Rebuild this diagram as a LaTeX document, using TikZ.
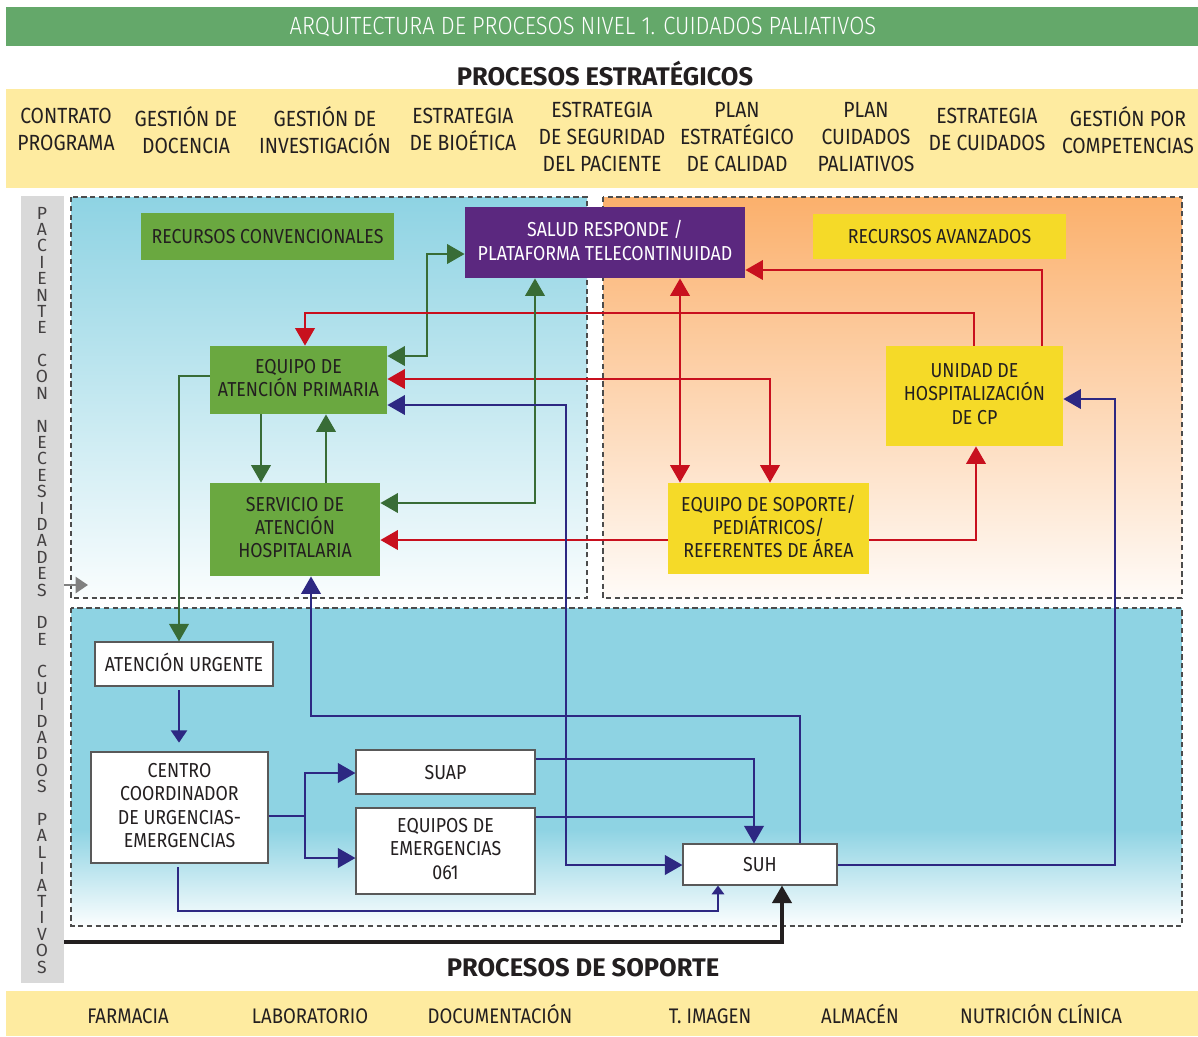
\documentclass[tikz,border=0pt]{standalone}
\usepackage{fontspec}
\setmainfont{Fira Sans}[FakeStretch=0.88]
\newfontfamily\spineFont{Fira Sans}
\newfontfamily\titleFont{Fira Sans Light}[FakeStretch=0.88]
\usetikzlibrary{positioning,arrows.meta}

\definecolor{titleGreen}{RGB}{100,168,106}
\definecolor{bandYellow}{RGB}{254,235,160}
\definecolor{convGreen}{RGB}{106,168,64}
\definecolor{arrowGreen}{RGB}{56,108,54}
\definecolor{telePurple}{RGB}{91,40,127}
\definecolor{advYellow}{RGB}{245,218,40}
\definecolor{arrowRed}{RGB}{200,16,30}
\definecolor{arrowNavy}{RGB}{45,40,130}
\definecolor{skyBlue}{RGB}{142,211,227}
\definecolor{peach}{RGB}{251,176,108}
\definecolor{inkGrey}{RGB}{35,31,32}
\definecolor{spineGrey}{RGB}{217,217,217}

\tikzstyle{pixels} = [x = 0.02cm, y = -0.02cm]
\tikzstyle{evenLines} = [execute at begin node = \vphantom{ÓÉ}, execute at end node = \vphantom{gp}]
\tikzstyle{boxBase} = [inner sep = 0pt, align = center, text = inkGrey, evenLines, font = \fontsize{11.5}{13.2}\selectfont]
\tikzstyle{convStyle} = [boxBase, fill = convGreen]
\tikzstyle{advStyle} = [boxBase, fill = advYellow]
\tikzstyle{teleStyle} = [boxBase, fill = telePurple, text = white]
\tikzstyle{urgentStyle} = [boxBase, fill = white, draw = gray!70!black, line width = .6pt]
\tikzstyle{spineStyle} = [boxBase, fill = spineGrey]
\tikzstyle{zoneBorder} = [draw = gray!60!black, line width = .6pt, dash pattern = on 3pt off 2pt]
\tikzstyle{bandText} = [align = center, text = inkGrey, evenLines, font = \fontsize{12.5}{15.3}\selectfont]
\tikzstyle{supportText} = [text = inkGrey, anchor = base, font = \fontsize{12}{14}\selectfont]
\tikzstyle{headText} = [text = inkGrey, font = \spineFont\fontsize{14.5}{16}\selectfont\bfseries]
\tikzstyle{spineLetter} = [text = inkGrey!85, font = \spineFont\fontsize{10}{10}\selectfont]
\tikzstyle{greenFlow} = [draw = arrowGreen, line width = 1.6pt]
\tikzstyle{redFlow} = [draw = arrowRed, line width = 1.6pt]
\tikzstyle{navyFlow} = [draw = arrowNavy, line width = 1.6pt]
\tikzstyle{blackFlow} = [draw = inkGrey, line width = 1.9pt]
\tikzstyle{greyFlow} = [draw = gray, line width = 1.6pt]

\newcommand{\placeBox}[7]{\node [#1, minimum width = {(#5-#3)*0.02cm}, minimum height = {(#6-#4)*0.02cm}] (#2) at ({(#3+#5)/2}, {(#4+#6)/2}) {#7};}

\begin{document}
\begin{tikzpicture}[pixels, >={Triangle[length = 10pt, width = 11pt]}]
  \useasboundingbox (0,0) rectangle (1198,1036);

  % cabecera
  \fill [titleGreen] (6,7) rectangle (1198,46);
  \node [text = white, font = \titleFont\fontsize{14.2}{16}\selectfont] (title) at (583,27) {ARQUITECTURA DE PROCESOS NIVEL 1. CUIDADOS PALIATIVOS};
  \node [headText] (stratHead) at (605,74) {PROCESOS ESTRATÉGICOS};
  \fill [bandYellow] (6,89) rectangle (1198,188);
  \node [bandText] (s1) at (66,132) {CONTRATO\\PROGRAMA};
  \node [bandText] (s2) at (186,132) {GESTIÓN DE\\DOCENCIA};
  \node [bandText] (s3) at (325,132) {GESTIÓN DE\\INVESTIGACIÓN};
  \node [bandText] (s4) at (463,132) {ESTRATEGIA\\DE BIOÉTICA};
  \node [bandText] (s5) at (602,139) {ESTRATEGIA\\DE SEGURIDAD\\DEL PACIENTE};
  \node [bandText] (s6) at (737,139) {PLAN\\ESTRATÉGICO\\DE CALIDAD};
  \node [bandText] (s7) at (866,139) {PLAN\\CUIDADOS\\PALIATIVOS};
  \node [bandText] (s8) at (987,132) {ESTRATEGIA\\DE CUIDADOS};
  \node [bandText] (s9) at (1128,132) {GESTIÓN POR\\COMPETENCIAS};

  % zonas
  \shade [top color = skyBlue, bottom color = skyBlue!5] (71,197) rectangle (587,598);
  \draw [zoneBorder] (71,197) rectangle (587,598);
  \shade [top color = peach, bottom color = peach!5] (603,197) rectangle (1182,598);
  \draw [zoneBorder] (603,197) rectangle (1182,598);
  \fill [skyBlue] (71,608) rectangle (1182,830);
  \shade [top color = skyBlue, bottom color = skyBlue!3] (71,829) rectangle (1182,926);
  \draw [zoneBorder] (71,608) rectangle (1182,926);

  % paciente
  \placeBox{spineStyle}{spine}{21}{196}{64}{983}{}
  \foreach \letter [count = \k] in {P,A,C,I,E,N,T,E,{},C,O,N,{},N,E,C,E,S,I,D,A,D,E,S,{},D,E,{},C,U,I,D,A,D,O,S,{},P,A,L,I,A,T,I,V,O,S}
    \node [spineLetter] (letter\k) at (42, {213 + (\k-1)*16.39}) {\letter};

  % recursos
  \placeBox{convStyle}{conv}{141}{213}{394}{260}{RECURSOS CONVENCIONALES}
  \placeBox{teleStyle}{salud}{465}{207}{745}{278}{SALUD RESPONDE /\\PLATAFORMA TELECONTINUIDAD}
  \placeBox{advStyle}{avanz}{813}{214}{1066}{259}{RECURSOS AVANZADOS}
  \placeBox{convStyle}{eap}{210}{346}{387}{414}{EQUIPO DE\\ATENCIÓN PRIMARIA}
  \placeBox{convStyle}{sah}{210}{483}{380}{576}{SERVICIO DE\\ATENCIÓN\\HOSPITALARIA}
  \placeBox{advStyle}{soporte}{668}{483}{869}{574}{EQUIPO DE SOPORTE/\\PEDIÁTRICOS/\\REFERENTES DE ÁREA}
  \placeBox{advStyle}{unidad}{886}{346}{1063}{446}{UNIDAD DE\\HOSPITALIZACIÓN\\DE CP}

  % urgencias
  \placeBox{urgentStyle}{au}{95}{642}{273}{686}{ATENCIÓN URGENTE}
  \placeBox{urgentStyle}{ccu}{91}{752}{268}{863}{CENTRO\\COORDINADOR\\DE URGENCIAS-\\EMERGENCIAS}
  \placeBox{urgentStyle}{suap}{356}{750}{535}{794}{SUAP}
  \placeBox{urgentStyle}{equipos}{356}{808}{535}{894}{EQUIPOS DE\\EMERGENCIAS\\061}
  \placeBox{urgentStyle}{suh}{683}{844}{837}{885}{SUH}

  % flechas verdes
  \draw [greenFlow, <->] (eap.east |- 0,356) -- (427,356) -- (427,254) -- (salud.west |- 0,254);
  \draw [greenFlow, ->] (eap.south -| 261,0) -- (sah.north -| 261,0);
  \draw [greenFlow, ->] (sah.north -| 326,0) -- (eap.south -| 326,0);
  \draw [greenFlow, ->] (eap.west |- 0,376) -- (179,376) -- (au.north -| 179,0);

  % flechas rojas
  \draw [redFlow, ->] (unidad.north -| 974,0) -- (974,313) -- (305,313) -- (eap.north -| 305,0);
  \draw [redFlow, <->] (eap.east |- 0,379) -- (770,379) -- (soporte.north -| 770,0);
  \draw [redFlow, ->] (unidad.north -| 1042,0) -- (1042,270) -- (salud.east |- 0,270);
  \draw [redFlow, ->] (soporte.west |- 0,540) -- (sah.east |- 0,540);
  \draw [redFlow, ->] (soporte.east |- 0,540) -- (976,540) -- (unidad.south -| 976,0);
  \draw [greenFlow, <->] (salud.south -| 535,0) -- (535,503) -- (sah.east |- 0,503);
  \draw [redFlow, <->] (salud.south -| 680,0) -- (soporte.north -| 680,0);

  % flechas azules
  \draw [navyFlow, <->] (eap.east |- 0,405) -- (566,405) -- (566,865) -- (suh.west |- 0,865);
  \draw [navyFlow, ->] (suh.north -| 800,0) -- (800,716) -- (311,716) -- (sah.south -| 311,0);
  \draw [navyFlow, ->] (suh.east |- 0,865) -- (1115,865) -- (1115,399) -- (unidad.east |- 0,399);
  \draw [navyFlow, -{Triangle[length = 7pt, width = 9pt]}, shorten <= 2pt, shorten >= 5pt] (au.south -| 179,0) -- (ccu.north -| 179,0);
  \coordinate (ccuSplit) at (305,816);
  \draw [navyFlow] (ccu.east |- ccuSplit) -- (ccuSplit);
  \draw [navyFlow, ->] (ccuSplit) |- (suap.west |- 0,773);
  \draw [navyFlow, ->] (ccuSplit) |- (equipos.west |- 0,858);
  \draw [navyFlow, ->] (suap.east |- 0,759) -- (754,759) -- (suh.north -| 754,0);
  \draw [navyFlow] (equipos.east |- 0,817) -- (754,817);
  \draw [navyFlow, -{Triangle[length = 5pt, width = 7pt]}, shorten <= 2pt] (ccu.south -| 178,0) -- (178,911) -- (718,911) -- (suh.south -| 718,0);

  % paciente hacia urgencias
  \coordinate (spineEntry) at (88,585);
  \draw [greyFlow, -{Triangle[length = 7pt, width = 9pt]}] (spine.east |- spineEntry) -- (spineEntry);
  \draw [blackFlow, ->] (spine.east |- 0,942) -- (782,942) -- (suh.south -| 782,0);

  % soporte
  \node [headText] (supportHead) at (583,968) {PROCESOS DE SOPORTE};
  \fill [bandYellow] (6,991) rectangle (1198,1036);
  \node [supportText] (p1) at (128,1023) {FARMACIA};
  \node [supportText] (p2) at (310,1023) {LABORATORIO};
  \node [supportText] (p3) at (500,1023) {DOCUMENTACIÓN};
  \node [supportText] (p4) at (710,1023) {T. IMAGEN};
  \node [supportText] (p5) at (860,1023) {ALMACÉN};
  \node [supportText] (p6) at (1041,1023) {NUTRICIÓN CLÍNICA};
\end{tikzpicture}
\end{document}
